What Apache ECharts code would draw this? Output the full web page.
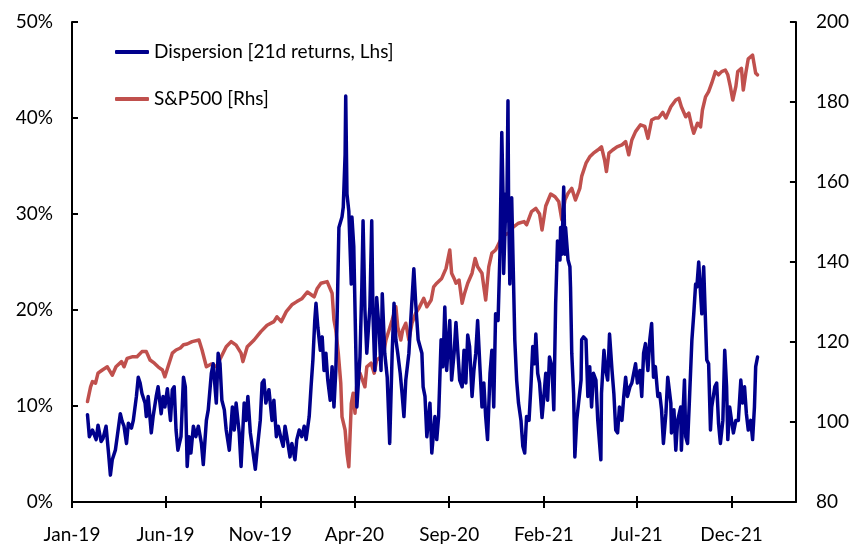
<!DOCTYPE html>
<html>
<head>
<meta charset="utf-8">
<script src="https://cdn.jsdelivr.net/npm/echarts@6/dist/echarts.min.js"></script>
<style>
html,body{margin:0;padding:0;background:#fff;}
#chart{width:852px;height:546px;}
</style>
</head>
<body>
<div id="chart"></div>
<script>
// Dates are stored as day offsets from 2019-01-01
const tickDays = [0, 151, 304, 456, 609, 762, 912, 1065];
const tickLabels = ['Jan-19', 'Jun-19', 'Nov-19', 'Apr-20', 'Sep-20', 'Feb-21', 'Jul-21', 'Dec-21'];
const leftTicks = [0, 10, 20, 30, 40, 50];
const rightTicks = [80, 100, 120, 140, 160, 180, 200];

const dispDays = [25,28,33,39,42,47,50,55,59,62,65,70,73,78,81,84,88,91,96,99,104,107,110,113,118,120,123,128,131,136,139,144,147,150,154,159,162,165,168,171,176,180,183,186,189,192,196,200,204,209,212,217,220,225,228,233,236,239,242,246,249,254,259,262,265,270,273,278,281,284,288,291,296,299,304,307,310,313,318,323,326,330,333,338,341,344,347,352,355,360,363,367,371,375,378,383,386,389,392,394,397,401,404,407,410,413,417,420,423,426,428,431,436,438,441,442,444,447,451,452,455,459,460,465,468,470,473,476,481,484,486,489,492,496,499,501,505,509,513,517,520,523,526,530,533,536,539,544,547,552,555,559,562,565,567,570,573,578,581,586,589,592,596,599,602,605,610,613,617,620,623,626,630,633,636,639,642,646,649,652,655,659,662,665,668,671,675,678,681,684,688,691,694,696,697,701,702,704,705,707,710,712,715,718,721,725,728,731,734,738,741,744,747,749,752,755,759,762,765,768,771,775,778,781,784,788,789,791,794,796,797,801,804,805,807,810,812,815,818,822,823,826,830,833,836,839,842,846,849,854,855,859,862,865,868,872,875,878,881,884,888,891,894,897,901,904,907,910,913,917,920,923,926,930,933,936,939,942,946,949,952,955,959,962,967,968,972,975,978,983,984,989,991,994,997,1001,1004,1007,1009,1012,1015,1017,1020,1023,1025,1028,1031,1033,1038,1041,1044,1047,1051,1054,1057,1059,1062,1065,1068,1072,1076,1080,1083,1086,1089,1092,1096,1099,1102,1104,1107];
const dispVals = [9.1,6.8,7.5,6.5,8.0,6.3,6.6,7.9,5.1,2.8,4.4,5.4,6.8,9.2,8.4,7.9,6.1,8.2,7.7,8.5,11.0,13.0,12.4,11.3,10.3,8.9,11.0,7.2,8.9,11.0,12.0,9.2,11.0,9.9,11.8,8.5,11.7,12.0,7.5,5.4,6.8,13.0,12.0,3.7,6.8,5.1,7.9,6.8,7.9,6.1,3.9,8.5,9.6,13.4,14.4,10.3,15.5,14.4,10.6,9.6,7.5,5.4,9.9,7.5,10.3,7.2,3.7,10.3,8.5,11.0,7.2,5.8,3.4,5.4,8.5,12.4,12.7,10.3,11.7,8.5,10.6,6.8,7.9,6.5,5.8,7.9,6.8,4.7,6.1,4.4,6.5,7.5,6.8,7.9,6.5,8.9,12.0,14.8,18.9,20.7,18.2,15.8,17.2,13.7,15.5,12.7,10.6,14.1,9.9,13.7,18.9,28.6,29.7,30.7,36.2,42.3,32.1,30.3,22.7,29.7,26.6,13.7,9.9,15.1,22.4,29.3,20.0,15.5,20.3,29.3,19.6,13.7,21.3,17.9,13.7,21.7,15.5,13.0,6.1,15.5,20.7,16.9,15.5,13.4,11.3,8.9,12.7,15.5,18.9,24.3,20.7,16.9,16.9,15.5,12.0,11.0,6.8,10.3,5.1,8.9,6.5,8.9,16.9,14.1,20.3,13.7,18.9,12.7,15.5,18.7,18.5,12.7,12.0,15.8,12.4,17.4,16.2,11.0,13.7,15.5,18.9,13.7,9.9,12.4,8.9,6.5,13.4,15.8,9.9,19.6,18.9,25.8,38.5,32.1,23.8,32.1,29.3,41.8,31.0,22.7,31.7,25.8,16.9,12.7,10.3,8.5,5.8,5.1,8.9,8.5,12.0,16.2,14.4,17.5,13.4,12.4,8.8,11.0,13.4,10.6,15.1,14.1,9.6,20.7,27.2,25.2,28.6,25.8,32.8,25.8,28.6,25.2,24.5,22.4,15.5,11.3,4.7,8.5,10.3,12.7,16.9,17.2,16.9,11.0,14.1,9.9,13.4,12.7,8.5,4.4,11.3,15.8,13.7,12.7,17.5,13.7,11.3,7.5,7.2,9.9,8.5,11.0,13.0,11.0,12.0,12.4,13.4,14.4,12.4,13.7,11.0,15.5,16.5,13.7,16.9,18.6,13.0,14.1,11.0,11.3,9.6,6.1,9.2,13.0,10.3,7.2,9.6,5.4,8.5,9.9,5.4,12.7,6.8,6.1,10.6,16.9,19.6,22.7,22.4,25.0,21.7,19.6,24.5,24.5,14.8,14.4,7.5,9.9,12.0,12.4,8.2,6.1,8.5,15.8,12.0,6.5,9.9,8.5,7.2,8.5,8.5,12.7,10.3,12.0,9.2,7.5,8.5,6.5,9.9,14.1,15.1];

const spxDays = [25,30,33,38,42,49,57,65,71,80,84,89,97,105,113,120,126,133,139,146,150,155,162,168,175,180,186,194,205,210,217,225,233,241,249,257,265,273,276,283,294,305,315,326,331,338,346,355,363,371,380,391,396,402,412,420,423,426,430,434,436,441,444,447,451,454,457,460,465,468,473,476,483,488,492,499,504,507,512,517,523,526,531,534,539,544,549,555,560,568,573,580,584,589,597,604,610,613,617,620,625,630,634,639,646,651,655,662,665,668,673,678,684,692,699,705,713,721,730,734,742,749,755,759,765,773,780,786,791,796,801,807,813,820,823,830,836,842,849,855,860,863,867,873,880,888,894,899,904,910,918,925,930,936,942,947,954,959,967,975,980,984,991,996,1001,1004,1007,1010,1015,1018,1023,1028,1033,1039,1044,1049,1055,1059,1063,1067,1072,1075,1081,1084,1088,1092,1099,1102,1104,1107];
const spxVals = [105.1,108.8,110.1,109.7,112.2,113.0,113.8,111.7,113.8,115.1,113.8,115.9,116.3,116.3,117.6,117.6,115.5,114.7,113.8,113.0,111.3,113.8,117.2,118.0,118.5,119.3,119.5,120.1,120.5,118.0,113.8,114.5,113.8,116.3,118.8,120.1,119.2,117.2,115.1,118.8,120.5,122.6,124.2,125.1,126.3,125.1,127.6,129.3,130.1,130.8,132.5,131.3,133.4,134.7,135.1,132.2,125.5,123.0,117.2,109.7,101.3,98.0,92.2,88.8,104.6,107.2,102.2,109.7,112.2,112.2,108.8,113.8,114.7,112.2,115.5,116.3,118.0,120.5,123.0,125.5,128.8,123.8,120.5,123.0,124.7,120.5,124.7,127.2,128.4,130.9,128.8,130.5,133.8,134.7,135.9,138.4,143.0,137.2,135.9,134.7,135.5,129.7,132.2,134.7,137.2,140.9,138.8,137.2,133.8,130.5,138.8,142.2,143.0,145.5,146.8,147.2,148.8,149.7,150.1,149.3,152.6,153.4,152.0,148.0,154.0,157.0,156.3,155.1,150.5,155.5,157.2,158.4,155.5,158.4,161.4,164.7,166.3,167.2,168.0,168.8,165.5,162.6,167.2,168.0,168.8,169.3,170.1,166.8,170.5,172.6,174.3,173.9,170.9,175.5,176.0,176.0,177.4,176.0,178.8,180.5,180.9,178.8,176.3,177.2,173.8,172.2,171.8,174.7,173.8,178.0,181.3,182.6,184.7,187.6,186.8,187.6,188.0,186.8,183.9,180.5,183.9,187.6,188.4,183.0,187.2,190.8,191.7,191.3,187.2,186.8];

const FONT = 'Lato, "Liberation Sans", sans-serif';
const FS = 19;
const chart = echarts.init(document.getElementById('chart'), null, {renderer: 'canvas'});

const labelFor = v => { const i = tickDays.indexOf(v); return i >= 0 ? tickLabels[i] : ''; };
const black2 = {color: '#000', width: 2};

chart.setOption({
  animation: false,
  backgroundColor: '#fff',
  grid: {left: 72, right: 55, top: 22, bottom: 44, containLabel: false},
  legend: {
    orient: 'vertical', left: 110, top: 37,
    itemWidth: 34, itemHeight: 4, itemGap: 27, icon: 'roundRect',
    textStyle: {fontSize: FS, lineHeight: 20, fontFamily: FONT, color: '#000'},
    data: ['Dispersion [21d returns, Lhs]', 'S&P500 [Rhs]']
  },
  xAxis: [
    {
      type: 'value', min: 0, max: 1169, position: 'bottom',
      splitLine: {show: false},
      axisLine: {show: true, onZero: false, lineStyle: black2},
      axisTick: {show: true, customValues: tickDays, length: 6, lineStyle: black2},
      axisLabel: {show: true, customValues: tickDays, formatter: labelFor, margin: 23, fontSize: FS, fontFamily: FONT, color: '#000'}
    },
    {
      type: 'value', min: 0, max: 1169, position: 'bottom',
      splitLine: {show: false},
      axisLine: {show: false, onZero: false},
      axisTick: {show: true, inside: true, customValues: tickDays, length: 6, lineStyle: black2},
      axisLabel: {show: false}
    }
  ],
  yAxis: [
    {
      type: 'value', min: 0, max: 50, interval: 10, position: 'left',
      splitLine: {show: false},
      axisLine: {show: true, onZero: false, lineStyle: black2},
      axisTick: {show: true, inside: true, length: 6, lineStyle: black2},
      axisLabel: {formatter: '{value}%', margin: 19, fontSize: FS, fontFamily: FONT, color: '#000'}
    },
    {
      type: 'value', min: 80, max: 200, interval: 20, position: 'right',
      splitLine: {show: false},
      axisLine: {show: true, onZero: false, lineStyle: black2},
      axisTick: {show: true, inside: true, length: 6, lineStyle: black2},
      axisLabel: {margin: 20, fontSize: FS, fontFamily: FONT, color: '#000'}
    }
  ],
  series: [
    {
      name: 'S&P500 [Rhs]', type: 'line', yAxisIndex: 1, xAxisIndex: 0,
      data: spxDays.map((d, i) => [d, spxVals[i]]),
      showSymbol: false, symbol: 'none',
      lineStyle: {color: '#C0504D', width: 3.5, join: 'round', cap: 'round'}, itemStyle: {color: '#C0504D'}, z: 2
    },
    {
      name: 'Dispersion [21d returns, Lhs]', type: 'line', yAxisIndex: 0, xAxisIndex: 0,
      data: dispDays.map((d, i) => [d, dispVals[i]]),
      showSymbol: false, symbol: 'none',
      lineStyle: {color: '#00008C', width: 3.5, join: 'round', cap: 'round'}, itemStyle: {color: '#00008C'}, z: 3
    }
  ]
});
</script>
</body>
</html>
